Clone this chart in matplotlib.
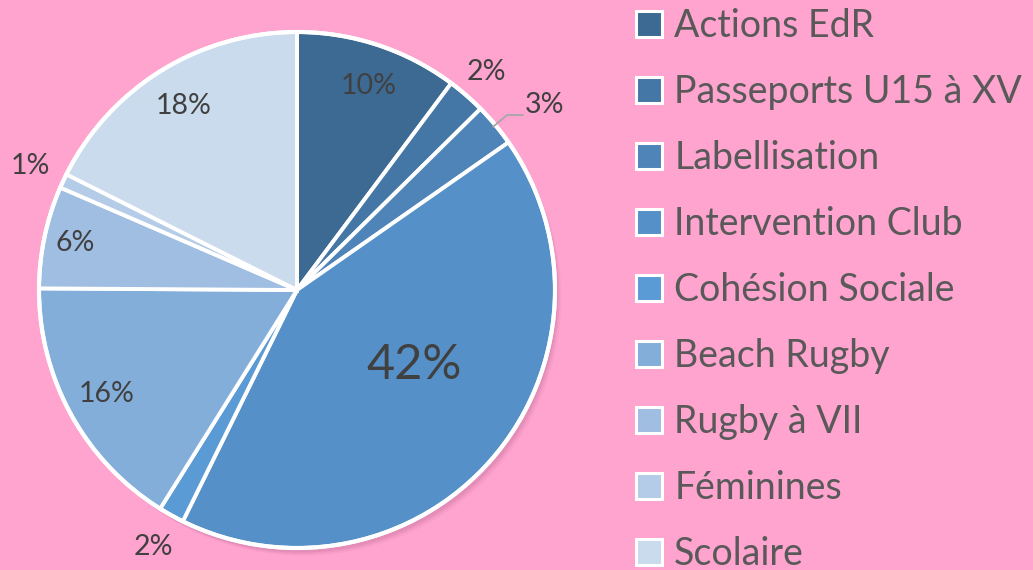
import numpy as np
import matplotlib.pyplot as plt
from matplotlib.patches import Patch, Circle

# Data
categories = ["Actions EdR", "Passeports U15 à XV", "Labellisation", "Intervention Club",
              "Cohésion Sociale", "Beach Rugby", "Rugby à VII", "Féminines", "Scolaire"]
values = [10.2, 2.4, 2.7, 42.0, 1.6, 16.2, 6.4, 0.9, 17.6]
colors = ["#3D6A92", "#4577A6", "#4F84B8", "#5591C8", "#5B9BD5",
          "#84AEDA", "#A0BDE2", "#B4CCE8", "#CADBEE"]

# label placement (radius factor, font size) per slice
label_r = [0.84, 1.12, 1.2, 0.54, 1.14, 0.84, 0.88, 1.14, 0.84]
label_fs = [20.5, 20.5, 20.5, 35, 20.5, 20.5, 20.5, 20.5, 20.5]
label_shift = [-1, 0, -3, 8, 0, 0, 0, 0, 0]  # degrees

bg = "#FFA3CF"
plt.rcParams['font.family'] = ['Lato', 'DejaVu Sans']

fig = plt.figure(figsize=(10.33, 5.70), dpi=100, facecolor=bg)
W, H = 1033, 570
R = 258
cx, cy = 297, 570 - 290
xl, yl = 1.15, 1.085
ax = fig.add_axes([(cx - xl * R) / W, (cy - yl * R) / H, 2 * xl * R / W, 2 * yl * R / H])
ax.set_xlim(-xl, xl)
ax.set_ylim(-yl, yl)
ax.axis('off')
ax.set_facecolor(bg)

# soft shadow behind pie
for i, a in enumerate([0.10, 0.07, 0.04]):
    ax.add_patch(Circle((0.012 + 0.006 * i, -0.018 - 0.006 * i), 1.0, color="#7a3a5a",
                        alpha=a, lw=0, zorder=0))

wedges, _ = ax.pie(values, colors=colors, startangle=90, counterclock=False, radius=1.0,
                   wedgeprops=dict(edgecolor="white", linewidth=2.8), center=(0, 0))
for w in wedges:
    w.set_zorder(2)
ax.add_patch(Circle((0, 0), 1.0, fill=False, ec="white", lw=3, zorder=3))
ax.set_xlim(-xl, xl)
ax.set_ylim(-yl, yl)
ax.set_aspect('auto')

for i, w in enumerate(wedges):
    mid = np.deg2rad((w.theta1 + w.theta2) / 2 + label_shift[i])
    r = label_r[i]
    x, y = r * np.cos(mid), r * np.sin(mid)
    ax.text(x, y, f"{values[i]:.0f}%", ha="center", va="center", fontsize=label_fs[i],
            color="#404040", zorder=5)
    if i == 2:
        # leader line for the small outside label
        m0 = np.deg2rad((w.theta1 + w.theta2) / 2)
        p0 = (0.99 * np.cos(m0), 0.99 * np.sin(m0))
        p1 = (1.06 * np.cos(m0), 1.06 * np.sin(m0))
        p2 = (p1[0] + 0.06, p1[1])
        ax.plot([p0[0], p1[0], p2[0]], [p0[1], p1[1], p2[1]], color="#A6A6A6", lw=1.3, zorder=4)

handles = [Patch(facecolor=c, edgecolor="white", linewidth=2.2) for c in colors]
leg = fig.legend(handles, categories, loc="upper left", bbox_to_anchor=(621 / W, 1 + 7 / H),
                 frameon=False, fontsize=27, labelcolor="#595959", handlelength=0.7,
                 handleheight=0.7, handletextpad=0.32, labelspacing=0.8, borderaxespad=0)

fig.savefig("out.png", dpi=100, facecolor=bg)
